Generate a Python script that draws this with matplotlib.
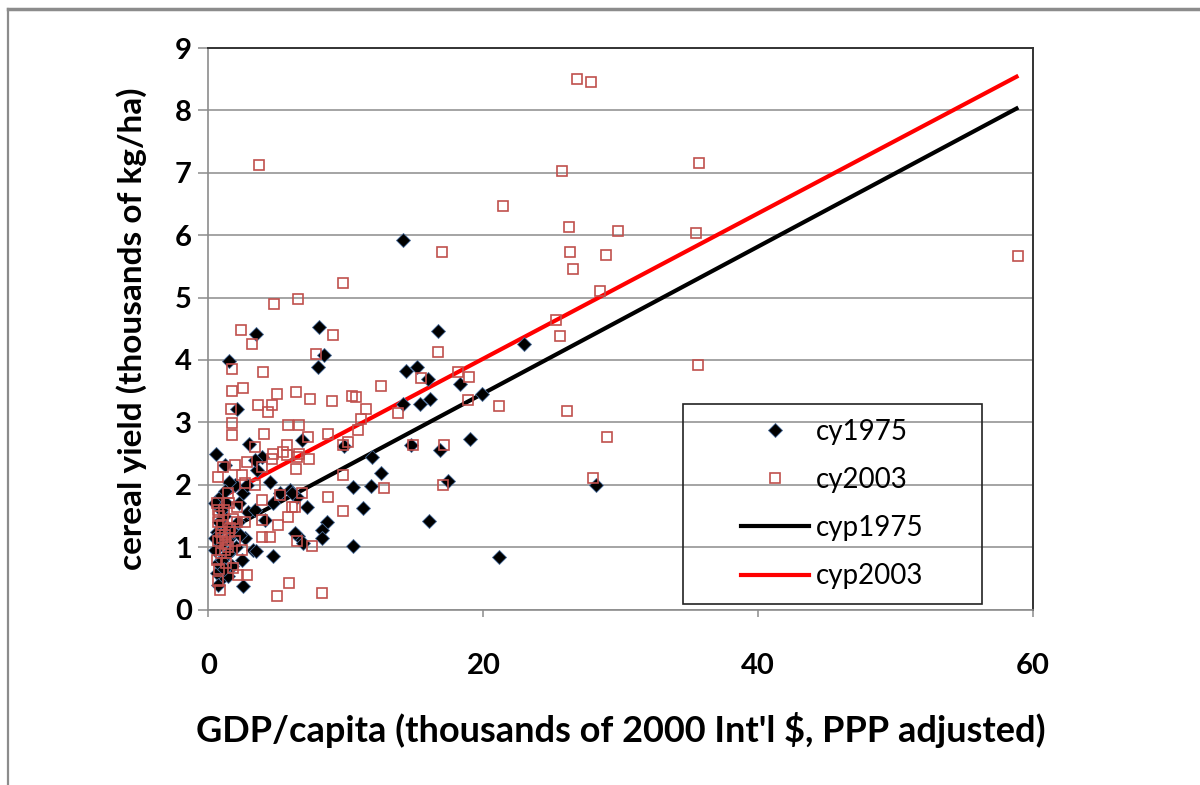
import matplotlib
matplotlib.use('Agg')
import matplotlib.pyplot as plt
from matplotlib.lines import Line2D
from matplotlib.patches import Rectangle

# ── data (GDP/capita, cereal yield) ───────────────────────────────────────────

gdp1975 = [14.13, 3.46, 8.04, 1.52, 8.43, 7.95, 16.73, 2.05, 2.95, 0.55,
           6.83, 9.88, 14.37, 15.15, 16.0, 14.18, 15.39, 16.12, 14.74, 16.85,
           11.92, 12.55, 10.54, 11.83, 6.42, 7.15, 11.22, 8.6, 8.28, 8.28,
           6.54, 6.9, 10.49, 16.05, 17.45, 22.96, 18.3, 19.93, 19.03, 28.18,
           21.14, 5.93, 1.2, 3.5, 4.48, 3.87, 5.2, 6.05, 0.84, 0.47,
           2.53, 4.72, 2.9, 3.38, 4.11, 1.32, 2.17, 2.66, 3.26, 4.72,
           2.42, 0.96, 1.44, 2.53, 0.6, 6.3, 0.47, 0.71, 1.69, 3.46,
           0.6, 0.9, 1.1, 1.5, 1.8, 1.0, 1.7, 2.0, 1.3, 2.2,
           1.9, 1.5, 3.38, 2.8, 0.7, 1.2, 0.8, 1.4, 0.5, 1.1,
           2.3, 0.9]
cy1975 = [5.93, 4.42, 4.53, 3.99, 4.08, 3.89, 4.47, 3.22, 2.65, 2.50,
          2.71, 2.62, 3.82, 3.88, 3.70, 3.30, 3.30, 3.38, 2.64, 2.56,
          2.44, 2.18, 1.96, 1.98, 1.81, 1.64, 1.63, 1.41, 1.27, 1.14,
          1.18, 1.06, 1.01, 1.42, 2.06, 4.25, 3.62, 3.46, 2.74, 2.00,
          0.84, 1.92, 2.32, 2.24, 2.05, 2.45, 1.86, 1.86, 1.81, 1.71,
          1.87, 1.70, 1.57, 1.59, 1.43, 1.33, 1.41, 1.14, 0.95, 0.85,
          0.79, 0.50, 0.53, 0.37, 0.58, 1.23, 0.95, 0.74, 0.95, 0.93,
          1.25, 1.05, 1.50, 1.15, 1.25, 0.80, 0.70, 1.00, 1.70, 1.70,
          2.00, 2.05, 2.40, 2.00, 0.40, 1.90, 1.40, 0.90, 1.15, 0.65,
          1.20, 1.60]

gdp2003 = [3.7, 26.8, 27.8, 25.7, 35.7, 21.4, 26.2, 29.8, 35.5, 16.97,
           26.3, 28.9, 26.5, 58.9, 9.77, 28.5, 6.49, 4.75, 25.3, 25.6,
           2.39, 3.19, 9.06, 7.8, 16.68, 35.6, 1.69, 4.0, 18.14, 18.96,
           15.47, 12.55, 2.49, 1.69, 4.99, 6.39, 7.39, 9.01, 10.42, 10.71,
           18.86, 21.17, 26.11, 3.6, 4.65, 4.35, 1.61, 11.44, 13.81, 11.08,
           1.69, 5.81, 6.6, 10.86, 1.69, 4.06, 8.72, 7.22, 29.03, 3.38,
           5.69, 9.77, 10.17, 14.86, 17.14, 6.59, 7.3, 4.72, 5.69, 6.42,
           28.0, 17.09, 6.4, 9.77, 12.8, 6.78, 8.72, 9.77, 6.3, 6.42,
           7.56, 8.28, 5.85, 4.96, 0.71, 1.93, 2.78, 2.42, 3.38, 3.87,
           4.6, 5.45, 1.44, 2.05, 3.87, 5.2, 6.05, 5.81, 5.08, 3.87,
           2.66, 2.05, 0.71, 3.87, 4.48, 2.42, 1.8, 2.17, 2.78, 0.71,
           0.84, 1.08, 2.66, 0.6, 0.8, 1.0, 1.2, 0.7, 1.4, 0.9,
           1.6, 1.1, 1.8, 0.6, 1.3, 1.9, 1.5, 0.9, 1.2, 0.7,
           1.0, 1.3, 0.8, 1.5]
cy2003 = [7.12, 8.51, 8.46, 7.03, 7.15, 6.46, 6.13, 6.07, 6.03, 5.73,
          5.73, 5.69, 5.46, 5.67, 5.23, 5.10, 4.97, 4.90, 4.64, 4.38,
          4.48, 4.25, 4.40, 4.09, 4.12, 3.92, 3.85, 3.80, 3.81, 3.73,
          3.71, 3.58, 3.55, 3.51, 3.45, 3.49, 3.37, 3.34, 3.42, 3.40,
          3.35, 3.26, 3.18, 3.28, 3.28, 3.17, 3.22, 3.22, 3.15, 3.06,
          2.99, 2.96, 2.96, 2.88, 2.79, 2.81, 2.81, 2.76, 2.76, 2.61,
          2.64, 2.64, 2.69, 2.64, 2.64, 2.50, 2.42, 2.50, 2.48, 2.45,
          2.10, 2.00, 2.25, 2.16, 1.94, 1.86, 1.80, 1.58, 1.64, 1.10,
          1.02, 0.27, 0.42, 0.22, 2.13, 2.32, 2.37, 2.16, 2.00, 2.29,
          2.42, 2.53, 1.86, 1.65, 1.75, 1.83, 1.65, 1.49, 1.35, 1.43,
          1.41, 1.41, 1.59, 1.17, 1.17, 0.95, 0.66, 0.55, 0.55, 0.45,
          0.31, 2.29, 2.03, 1.70, 1.50, 1.35, 1.20, 1.10, 1.00, 0.90,
          1.30, 1.60, 1.45, 0.80, 0.75, 1.10, 1.70, 1.25, 0.95, 1.40,
          1.15, 1.05, 0.65, 1.25]

# fitted lines (cyp), endpoints
fit_x = [0.5, 58.8]
cyp1975 = [1.17, 8.03]
cyp2003 = [1.75, 8.54]

plt.rcParams['font.family'] = ['Lato', 'DejaVu Sans']

W, H = 1200, 785
fig = plt.figure(figsize=(W / 100, H / 100), dpi=100)
ax = fig.add_axes([208.5 / W, 1 - 609.5 / H, (1033 - 208.5) / W, (609.5 - 48) / H])

ax.plot(fit_x, cyp1975, color='black', lw=3, label='cyp1975', zorder=2)
ax.plot(fit_x, cyp2003, color='#ff0000', lw=3, label='cyp2003', zorder=2)
ax.plot(gdp1975, cy1975, ls='none', marker='D', ms=6.8, mfc='black',
        mec='#4a6e9c', mew=0.6, label='cy1975', zorder=3)
ax.plot(gdp2003, cy2003, ls='none', marker='s', ms=7.5, mfc='none',
        mec='#c0504d', mew=1.2, label='cy2003', zorder=4)

ax.set_xlim(0, 60)
ax.set_ylim(0, 9)
ax.set_xticks([0, 20, 40, 60])
ax.set_yticks(range(10))
ax.yaxis.grid(True, color='#8c8c8c', lw=1.1)
ax.set_axisbelow(True)

for side in ['left', 'bottom']:
    ax.spines[side].set_color('#8c8c8c')
    ax.spines[side].set_linewidth(1.2)
for side in ['top', 'right']:
    ax.spines[side].set_color('#333333')
    ax.spines[side].set_linewidth(1.4)

ax.tick_params(axis='y', direction='out', length=7, width=1.1, color='#8c8c8c',
               labelsize=21, pad=5)
ax.tick_params(axis='x', direction='out', length=5, width=1.1, color='#8c8c8c',
               labelsize=21, pad=26)
for lab in ax.get_xticklabels() + ax.get_yticklabels():
    lab.set_fontweight('bold')

ax.set_xlabel("GDP/capita (thousands of 2000 Int'l $, PPP adjusted)",
              fontsize=26, fontweight='bold', labelpad=24)
ax.set_ylabel('cereal yield (thousands of kg/ha)', fontsize=24,
              fontweight='bold', labelpad=20)

# legend: order as in the reference, box drawn separately
h, l = ax.get_legend_handles_labels()
order = [2, 3, 0, 1]
leg = ax.legend([h[i] for i in order], [l[i] for i in order], loc='center',
                bbox_to_anchor=(0.757, 0.188), frameon=False, fontsize=20,
                handlelength=2.45, handletextpad=0.25, labelspacing=0.8,
                markerscale=1.0)
ax.add_patch(Rectangle((0.5755, 0.0098), 0.3625, 0.356, transform=ax.transAxes,
                       fill=False, ec='#222222', lw=1.2, zorder=5))

# outer chart border (left and top only visible)
fig.add_artist(Line2D([8 / W, 8 / W], [0, 1 - 9 / H], color='#8c8c8c', lw=1.6))
fig.add_artist(Line2D([8 / W, 1], [1 - 9 / H, 1 - 9 / H], color='#8c8c8c', lw=2.5))

fig.savefig('out.png', dpi=100)
